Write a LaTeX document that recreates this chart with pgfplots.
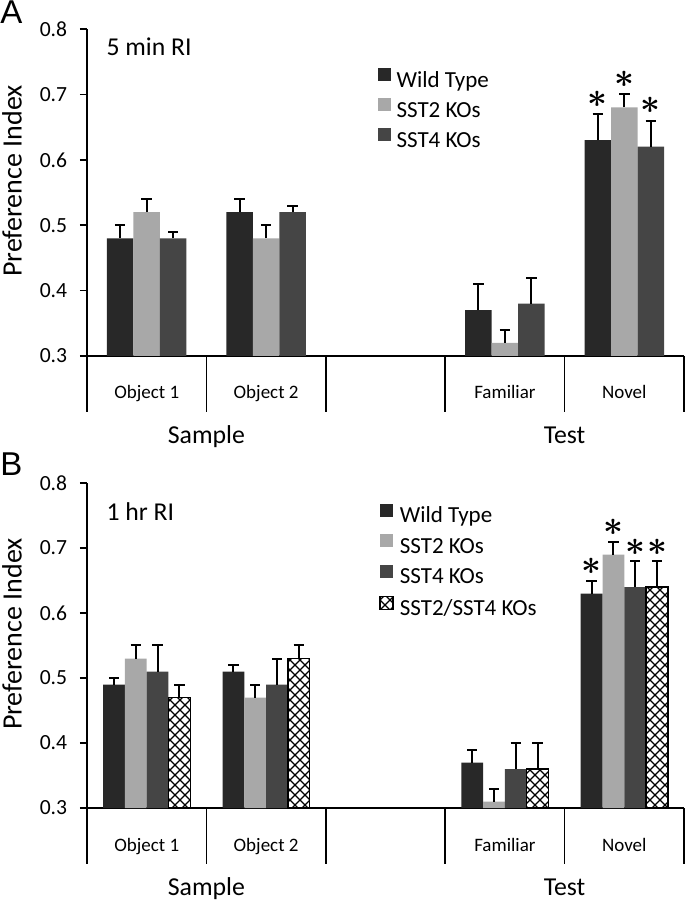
\documentclass[border=0pt]{standalone}
\usepackage{pgfplots}
\pgfplotsset{compat=1.18}
\usepackage{pgfplotstable}
\usepackage{fontspec}
\setmainfont{Carlito}
\newfontfamily\letterfont{Liberation Sans}
\usetikzlibrary{patterns}

\definecolor{wt}{HTML}{282828}
\definecolor{sstwo}{HTML}{A8A8A8}
\definecolor{sstfour}{HTML}{454545}

% diagonal cross hatch for the double knock-outs
\pgfdeclarepatternformonly{diagcross}{\pgfqpoint{-0.5pt}{-0.5pt}}{\pgfqpoint{5.5pt}{5.5pt}}{\pgfqpoint{5pt}{5pt}}{
  \pgfsetlinewidth{0.6pt}
  \pgfpathmoveto{\pgfqpoint{0pt}{0pt}}\pgfpathlineto{\pgfqpoint{5pt}{5pt}}
  \pgfpathmoveto{\pgfqpoint{0pt}{5pt}}\pgfpathlineto{\pgfqpoint{5pt}{0pt}}
  \pgfusepath{stroke}}

% x: 0 Object 1, 1 Object 2, 3 Familiar, 4 Novel
\pgfplotstableread{
x wt wte s2 s2e s4 s4e
0 0.48 0.02 0.52 0.02 0.48 0.01
1 0.52 0.02 0.48 0.02 0.52 0.01
3 0.37 0.04 0.32 0.02 0.38 0.04
4 0.63 0.04 0.68 0.02 0.62 0.04
}\fivemin

\pgfplotstableread{
x wt wte s2 s2e s4 s4e dk dke
0 0.49 0.01 0.53 0.02 0.51 0.04 0.47 0.02
1 0.51 0.01 0.47 0.02 0.49 0.04 0.53 0.02
3 0.37 0.02 0.31 0.02 0.36 0.04 0.36 0.04
4 0.63 0.02 0.69 0.02 0.64 0.04 0.64 0.04
}\onehr

\newcommand\sig{{\fontsize{16}{16}\selectfont\boldmath$\ast$}}

\tikzset{
  divs/.style={line width=0.75pt, black},
  catlab/.style={font=\fontsize{9.5}{11}\selectfont, text height=6.5pt, text depth=1.5pt, yshift=-19pt},
  grplab/.style={font=\fontsize{12.9}{14}\selectfont, text height=8.5pt, text depth=0pt, yshift=-39.5pt},
}

\pgfplotsset{
  pref/.style={
    scale only axis, width=298.5pt,
    xmin=-0.5, xmax=4.5, ymin=0.3, ymax=0.8,
    ybar=0pt,
    clip mode=individual,
    axis x line*=bottom, axis y line*=left,
    axis line style={line width=0.75pt, black},
    xtick=\empty, ytick={0.3,0.4,0.5,0.6,0.7,0.8},
    tick align=outside, major tick length=3.5pt,
    every tick/.style={line width=0.75pt, black},
    /pgf/number format/assume math mode=true,
    yticklabel style={font=\fontsize{10.8}{12}\selectfont, xshift=-2.9pt,
      /pgf/number format/fixed, /pgf/number format/fixed zerofill,
      /pgf/number format/precision=1},
    ylabel={Preference Index},
    ylabel style={at={(axis description cs:-0.1256,0.535)}, anchor=center,
      font=\fontsize{14}{16}\selectfont},
    legend cell align=left,
    legend style={draw=none, fill=none, inner sep=0pt, anchor=north west,
      font=\fontsize{11.5}{13}\selectfont,
      nodes={inner sep=0pt, text height=8.5pt, text depth=2.5pt},
      /tikz/every odd column/.style={column sep=3pt}},
  },
  bars/.style={draw=none,
    legend image code/.code={\path[##1] (0pt,0pt) rectangle (6.5pt,6.5pt);},
    error bars/y dir=plus, error bars/y explicit,
    error bars/error mark=-,
    error bars/error bar style={draw=black, solid, line width=1pt},
    error bars/error mark options={rotate=90, draw=black, solid, line width=1pt, mark size=2.6pt}},
}

\begin{document}
\begin{tikzpicture}
\useasboundingbox (0pt,0pt) rectangle (342.5pt,450pt);

\node[anchor=north west, inner sep=0pt, font=\letterfont\fontsize{16.5}{18}\selectfont] at (0pt,450pt) {A};
\node[anchor=north west, inner sep=0pt, font=\letterfont\fontsize{16.5}{18}\selectfont] at (0pt,224pt) {B};

% ---- A: 5 min RI
\begin{axis}[pref, height=163.5pt, at={(43.5pt,272pt)}, anchor=south west,
  bar width=13.25pt,
  legend style={at={(axis description cs:0.486,0.881)}, row sep=3pt}]
\addplot[bars, fill=wt] table[x=x, y=wt, y error=wte] {\fivemin};
\addplot[bars, fill=sstwo] table[x=x, y=s2, y error=s2e] {\fivemin};
\addplot[bars, fill=sstfour] table[x=x, y=s4, y error=s4e] {\fivemin};
\legend{Wild Type, SST2 KOs, SST4 KOs}
\pgfplotsinvokeforeach{-0.5,0.5,1.5,2.5,3.5,4.5}{\draw[divs] (axis cs:#1,0.3) -- ++(0pt,-28pt);}
\node[catlab] at (axis cs:0,0.3) {Object 1};
\node[catlab] at (axis cs:1,0.3) {Object 2};
\node[catlab] at (axis cs:3,0.3) {Familiar};
\node[catlab] at (axis cs:4,0.3) {Novel};
\node[grplab] at (axis cs:0.5,0.3) {Sample};
\node[grplab] at (axis cs:3.5,0.3) {Test};
\node[anchor=west, inner sep=0pt, font=\fontsize{12.85}{14}\selectfont] at (axis description cs:0.032,0.946) {5 min RI};
\node[inner sep=0pt, xshift=-13.25pt, yshift=7.5pt] at (axis cs:4,0.67) {\sig};
\node[inner sep=0pt, yshift=7.5pt] at (axis cs:4,0.70) {\sig};
\node[inner sep=0pt, xshift=13.25pt, yshift=7.5pt] at (axis cs:4,0.66) {\sig};
\end{axis}

% ---- B: 1 hr RI
\begin{axis}[pref, height=162.5pt, at={(43.5pt,46pt)}, anchor=south west,
  bar width=10.9pt,
  legend style={at={(axis description cs:0.489,0.938)}, row sep=3.35pt}]
\addplot[bars, fill=wt] table[x=x, y=wt, y error=wte] {\onehr};
\addplot[bars, fill=sstwo] table[x=x, y=s2, y error=s2e] {\onehr};
\addplot[bars, fill=sstfour] table[x=x, y=s4, y error=s4e] {\onehr};
\addplot[bars, draw=black, line width=0.75pt, pattern=diagcross] table[x=x, y=dk, y error=dke] {\onehr};
\legend{Wild Type, SST2 KOs, SST4 KOs, SST2/SST4 KOs}
\pgfplotsinvokeforeach{-0.5,0.5,1.5,2.5,3.5,4.5}{\draw[divs] (axis cs:#1,0.3) -- ++(0pt,-28pt);}
\node[catlab] at (axis cs:0,0.3) {Object 1};
\node[catlab] at (axis cs:1,0.3) {Object 2};
\node[catlab] at (axis cs:3,0.3) {Familiar};
\node[catlab] at (axis cs:4,0.3) {Novel};
\node[grplab] at (axis cs:0.5,0.3) {Sample};
\node[grplab] at (axis cs:3.5,0.3) {Test};
\node[anchor=west, inner sep=0pt, font=\fontsize{12.85}{14}\selectfont] at (axis description cs:0.032,0.911) {1 hr RI};
\node[inner sep=0pt, xshift=-16.35pt, yshift=7pt] at (axis cs:4,0.65) {\sig};
\node[inner sep=0pt, xshift=-5.45pt, yshift=7pt] at (axis cs:4,0.71) {\sig};
\node[inner sep=0pt, xshift=5.45pt, yshift=7pt] at (axis cs:4,0.68) {\sig};
\node[inner sep=0pt, xshift=16.35pt, yshift=7pt] at (axis cs:4,0.68) {\sig};
\end{axis}
\end{tikzpicture}
\end{document}
